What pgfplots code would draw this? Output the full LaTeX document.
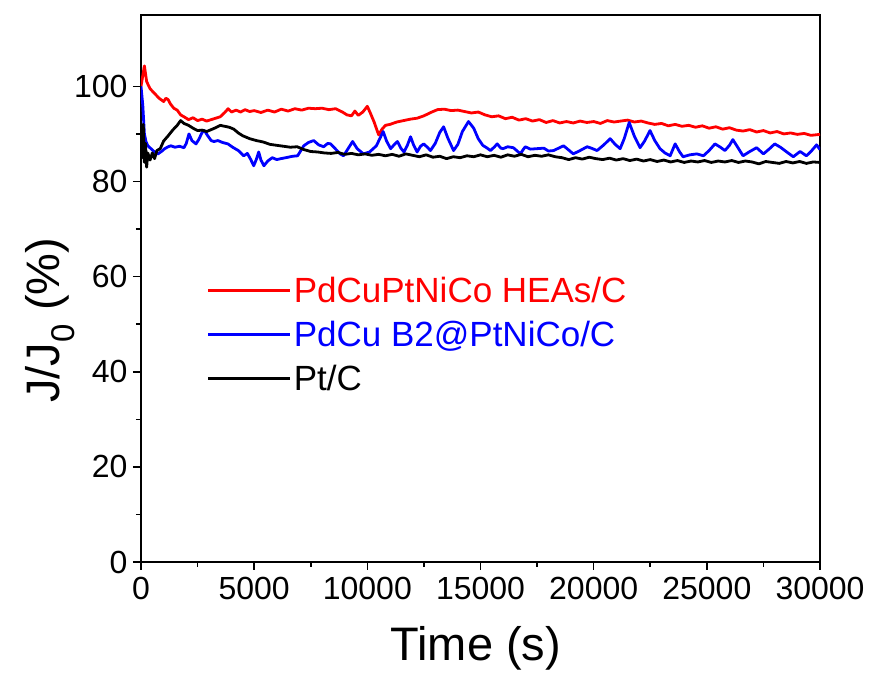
\documentclass[border=0pt]{standalone}
\usepackage{pgfplots}
\pgfplotsset{compat=1.18}
\usepackage{fontspec}
\setmainfont{Liberation Sans}
\begin{document}
\begin{tikzpicture}
\useasboundingbox (-141pt,-115pt) rectangle (735pt,562pt);
\begin{axis}[
  at={(0pt,0pt)}, anchor=south west,
  scale only axis, width=679pt, height=547pt,
  xmin=0, xmax=30000, ymin=0, ymax=115,
  xtick={0,5000,...,30000}, ytick={0,20,...,100},
  minor x tick num=1, minor y tick num=1,
  xtick pos=bottom, ytick pos=left,
  tick align=outside,
  major tick length=8pt, minor tick length=5pt,
  every tick/.style={line width=1.6pt, black},
  axis line style={line width=1.8pt},
  /pgf/number format/assume math mode=true,
  scaled x ticks=false,
  x tick label style={/pgf/number format/1000 sep={}, font=\fontsize{32}{38}\selectfont, yshift=-4pt},
  y tick label style={font=\fontsize{32}{38}\selectfont, xshift=-2pt},
  xlabel={Time (s)},
  ylabel={J/J\textsubscript{0} (\%)},
  xlabel style={font=\fontsize{47}{56}\selectfont, at={(axis description cs:0.493,-0.157)}, anchor=center},
  ylabel style={font=\fontsize{47}{56}\selectfont, at={(axis description cs:-0.134,0.442)}, anchor=center},
  legend style={at={(axis description cs:0.097,0.525)}, anchor=north west, draw=none, fill=none,
    font=\fontsize{35}{42}\selectfont, row sep=13pt, inner sep=0pt,
    /tikz/column 2/.style={column sep=11pt}},
  legend cell align=left,
  legend image code/.code={\draw[#1] (0pt,0pt) -- (82pt,0pt);},
]
\addplot[red, line width=2.8pt, line join=round] coordinates {
(0,100) (150,104.3) (250,101) (400,99.5) (600,98.5) (800,97.5) (1000,96.8) (1100,97.5) (1200,97.2) (1300,96.3)
(1450,95.4) (1600,95.0) (1750,94.0) (1900,93.6) (2100,93.0) (2300,93.4) (2500,92.8) (2700,93.1) (2900,92.7) (3100,93.0)
(3300,93.3) (3500,93.6) (3700,94.5) (3850,95.3) (4000,94.6) (4200,95.0) (4400,94.6) (4600,95.1) (4800,94.7) (5000,94.9)
(5300,94.5) (5600,95.0) (5900,94.6) (6200,95.2) (6500,94.8) (6800,95.3) (7100,95.0) (7400,95.4) (7700,95.3) (8000,95.4)
(8300,95.1) (8600,95.3) (8900,94.6) (9100,94.0) (9300,93.8) (9450,94.8) (9600,93.9) (9800,94.6) (10000,95.8) (10150,94.2)
(10300,92.5) (10500,89.8) (10650,91.0) (10800,91.8) (11000,92.0) (11300,92.5) (11600,92.8) (11900,93.1) (12200,93.3) (12500,93.8)
(12800,94.5) (13100,95.1) (13400,95.2) (13700,94.9) (14000,95.0) (14300,94.7) (14600,94.4) (14900,94.6) (15200,94.0) (15500,93.6)
(15800,93.8) (16100,93.2) (16400,93.5) (16700,92.9) (17000,93.2) (17300,92.7) (17600,93.0) (17900,92.4) (18200,92.8) (18500,92.3)
(18800,92.6) (19100,92.3) (19400,92.7) (19700,92.4) (20000,92.6) (20300,92.2) (20600,92.8) (20900,92.5) (21200,92.7) (21500,92.9)
(21800,92.5) (22100,92.7) (22400,92.3) (22700,92.0) (23000,92.2) (23300,91.7) (23600,92.0) (23900,91.6) (24200,91.8) (24500,91.4)
(24800,91.7) (25100,91.2) (25400,91.5) (25700,91.0) (26000,91.3) (26300,90.8) (26600,90.6) (26900,90.9) (27200,90.4) (27500,90.7)
(27800,90.2) (28100,90.5) (28400,90.0) (28700,90.2) (29000,89.9) (29300,90.1) (29600,89.7) (30000,89.9)
};
\addlegendentry{\textcolor{red}{PdCuPtNiCo HEAs/C}}
\addplot[blue, line width=2.8pt, line join=round] coordinates {
(0,100) (80,96) (150,90) (220,88.4) (300,87.5) (440,86.9) (600,86.2) (750,85.8) (900,86.3) (1050,86.9)
(1200,87.3) (1320,87.5) (1500,87.2) (1700,87.4) (1900,87.1) (2000,88.0) (2120,90.0) (2250,88.6) (2430,87.9) (2550,88.8)
(2700,90.3) (2800,90.7) (2950,89.6) (3100,88.6) (3220,88.4) (3400,88.6) (3600,88.2) (3840,87.9) (4050,87.2) (4300,86.5)
(4540,85.4) (4700,85.9) (4850,84.6) (4980,83.3) (5100,84.7) (5200,86.2) (5300,84.5) (5430,83.3) (5600,84.3) (5800,85.0)
(6000,84.6) (6180,84.8) (6400,85.0) (6700,85.3) (6920,85.4) (7050,86.4) (7190,87.5) (7400,88.2) (7630,88.6) (7850,87.7)
(8070,87.3) (8250,88.0) (8380,87.9) (8600,86.8) (8800,85.8) (8950,85.4) (9150,86.9) (9350,88.4) (9550,86.9) (9830,85.8)
(10100,86.2) (10400,87.5) (10700,90.5) (10850,88.5) (11030,86.9) (11200,87.8) (11330,88.4) (11480,87.0) (11620,86.2) (11760,87.5)
(11910,89.4) (12050,87.6) (12200,86.2) (12350,87.4) (12490,87.9) (12650,87.2) (12790,86.5) (13000,88.0) (13200,90.3) (13370,91.5)
(13550,89.2) (13810,86.5) (14000,87.8) (14200,90.5) (14470,92.6) (14700,91.2) (14900,89.0) (15100,87.6) (15300,87.0) (15440,86.5)
(15600,87.2) (15740,87.9) (15900,87.0) (16000,86.9) (16200,87.3) (16450,87.1) (16600,86.5) (16760,85.8) (16900,86.8) (16980,87.3)
(17200,86.8) (17500,86.9) (17800,87.0) (18000,86.4) (18230,86.5) (18450,87.0) (18670,87.5) (18900,86.6) (19100,85.8) (19400,86.5)
(19710,87.3) (19900,87.0) (20150,86.5) (20450,87.7) (20730,89.0) (20950,87.8) (21170,86.9) (21350,89.0) (21570,92.4) (21800,89.5)
(22050,87.1) (22250,88.5) (22490,90.7) (22700,88.6) (22930,86.9) (23150,86.0) (23380,85.4) (23600,87.9) (23800,86.2) (23950,85.2)
(24250,85.6) (24560,85.8) (24850,85.4) (25100,86.5) (25360,87.9) (25600,87.2) (25800,86.5) (26000,87.6) (26150,88.8) (26350,87.3)
(26600,85.4) (26900,86.3) (27200,87.1) (27500,85.8) (27750,86.8) (28000,87.9) (28250,87.2) (28530,86.2) (28820,85.2) (29120,86.3)
(29400,85.4) (29600,86.3) (29850,87.7) (30000,86.7)
};
\addlegendentry{\textcolor{blue}{PdCu B2@PtNiCo/C}}
\addplot[black, line width=2.8pt, line join=round] coordinates {
(0,90) (50,85) (100,92) (150,84) (200,88) (250,83) (300,86) (400,84.5) (500,86) (600,84.8)
(700,86.5) (850,86.9) (1000,88.5) (1200,89.6) (1400,90.8) (1600,91.8) (1750,92.8) (1900,92.2) (2100,91.8) (2300,91.2)
(2500,90.7) (2700,90.8) (2900,90.5) (3100,90.9) (3300,91.3) (3500,91.8) (3700,91.6) (3900,91.4) (4100,91.0) (4300,90.2)
(4500,89.6) (4800,89.0) (5100,88.6) (5400,88.3) (5700,87.8) (6000,87.6) (6300,87.4) (6600,87.2) (6900,87.3) (7200,86.7)
(7500,86.3) (7800,86.2) (8100,86.0) (8400,85.9) (8700,86.1) (9000,85.7) (9300,85.9) (9600,85.6) (9900,85.8) (10200,85.5)
(10500,85.7) (10800,85.4) (11100,85.7) (11400,85.3) (11700,85.8) (12000,85.5) (12300,85.2) (12600,85.6) (12900,85.1) (13200,85.3)
(13500,84.8) (13800,85.2) (14100,85.0) (14400,85.4) (14700,85.2) (15000,85.6) (15300,85.2) (15600,85.5) (15900,85.1) (16200,85.6)
(16500,85.3) (16800,85.7) (17100,85.2) (17400,85.5) (17700,85.3) (18000,85.6) (18300,85.2) (18600,85.0) (18900,84.6) (19200,85.0)
(19500,84.7) (19800,85.1) (20100,84.8) (20400,84.6) (20700,84.9) (21000,84.5) (21300,84.8) (21600,84.4) (21900,84.7) (22200,84.3)
(22500,84.6) (22800,84.2) (23100,84.5) (23400,84.1) (23700,84.4) (24000,84.0) (24300,84.3) (24600,84.1) (24900,84.4) (25200,84.0)
(25500,84.3) (25800,84.1) (26100,84.4) (26400,84.0) (26700,84.3) (27000,84.1) (27300,83.7) (27600,84.2) (27900,84.0) (28200,83.8)
(28500,84.2) (28800,83.9) (29100,84.2) (29400,83.8) (29700,84.1) (30000,84.0)
};
\addlegendentry{Pt/C}
\end{axis}
\end{tikzpicture}
\end{document}
